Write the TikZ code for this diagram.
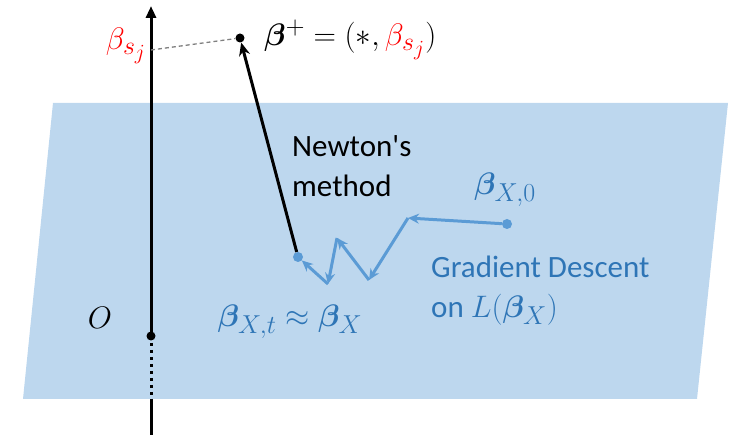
\documentclass[tikz,border=0pt]{standalone}
\usepackage{graphicx}
\usepackage{amsmath,bm}
\usepackage{fontspec}
\setmainfont{Carlito}
\usetikzlibrary{arrows.meta}
\definecolor{plane}{HTML}{BDD7EE}
\definecolor{gdtext}{HTML}{2E75B6}
\definecolor{gdline}{HTML}{5B9BD5}
\newcommand{\mybigmath}[1]{\scalebox{1.25}{$#1$}}
\begin{document}
\begin{tikzpicture}[x=1pt,y=-1pt,
  lbl/.style={font=\fontsize{31}{40}\selectfont, inner sep=0pt},
  mlbl/.style={font=\fontsize{24.88}{30}\selectfont, inner sep=0pt},
  bdot/.style={circle, fill=black, inner sep=0pt, minimum size=9pt},
  gdot/.style={circle, fill=gdline, inner sep=0pt, minimum size=10pt},
  gdarrow/.style={gdline, line width=3pt, -{Stealth[length=11pt,width=10pt]}},
  axis/.style={line width=3pt}]
\useasboundingbox (0,0) rectangle (732,435);
\fill[plane] (53,103) -- (728,103) -- (697,399) -- (23,399) -- cycle;
% axis
\coordinate (top) at (151,6);
\coordinate (bot) at (151,435);
\coordinate (pe) at (151,399);
\node[bdot] (o) at (151,336) {};
\coordinate (sj) at (151,50);
\draw[axis, -{Triangle[length=12pt,width=10pt]}] (o.center) -- (top);
\draw[line width=3pt, dash pattern=on 3pt off 4pt] (o.center) -- (pe);
\draw[axis] (pe) -- (bot);
\node[mlbl] (olab) at (100,318) {\mybigmath{O}};
\node[mlbl, text=red] (sjlab) at (126,46) {\mybigmath{\beta_{s_j}}};
% beta plus
\node[bdot] (bp) at (240,38) {};
\draw[gray, dash pattern=on 4pt off 3pt, line width=1.3pt] (sj) -- (bp);
\node[mlbl, anchor=west] (bplab) at (264,40) {\mybigmath{\bm{\beta}^{+} = (*, {\color{red}\beta_{s_j}})}};
% GD path
\node[gdot] (x0) at (507,224) {};
\node[gdot] (xt) at (298,257) {};
\coordinate (p1) at (408,218);
\coordinate (p2) at (369,280);
\coordinate (p3) at (337,238);
\coordinate (p4) at (328,284);
\draw[gdarrow] (x0) -- (p1);
\draw[gdarrow] (p1) -- (p2);
\draw[gdarrow] (p2) -- (p3);
\draw[gdarrow] (p3) -- (p4);
\draw[gdarrow] (p4) -- (xt);
% Newton
\draw[line width=3pt, -{Stealth[length=13pt,width=11pt]}] (xt) -- (bp);
\node[lbl, anchor=west, align=left] (newton) at (292,166) {Newton\textquotesingle s\\method};
\node[mlbl, text=gdtext] (x0lab) at (505,190) {\mybigmath{\bm{\beta}_{X,0}}};
\node[mlbl, text=gdtext] (xtlab) at (290,322) {\mybigmath{\bm{\beta}_{X,t} \approx \bm{\beta}_{X}}};
\node[lbl, text=gdtext, anchor=west, align=left] (gd) at (431,291) {Gradient Descent\\on \mybigmath{L(\bm{\beta}_X)}};
\end{tikzpicture}
\end{document}
